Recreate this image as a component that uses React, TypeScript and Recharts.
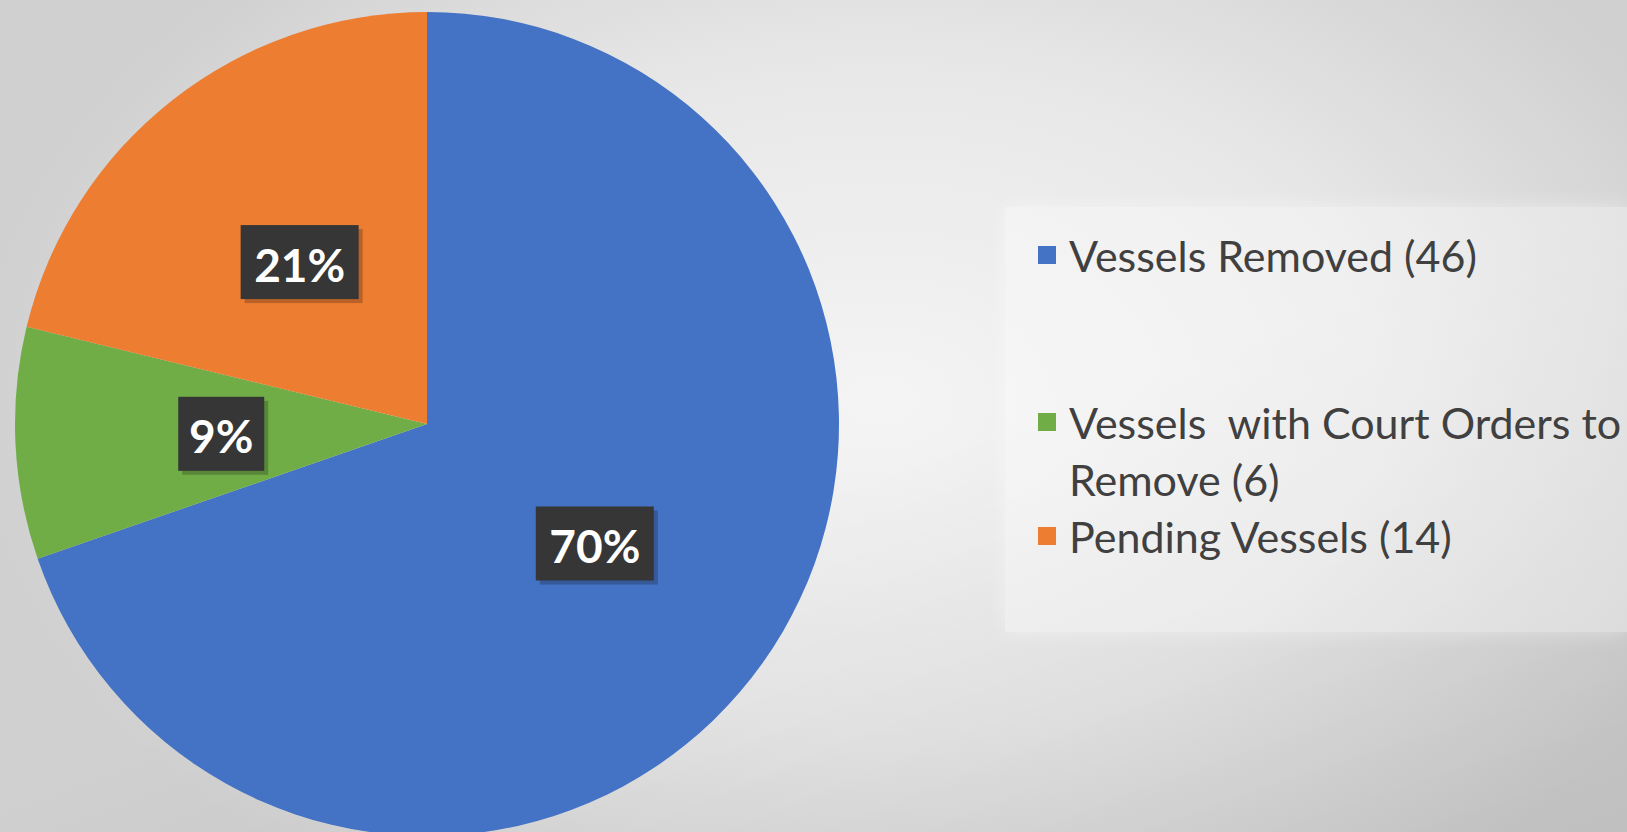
import React from 'react';
import { PieChart, Pie, Cell, Legend } from 'recharts';

const categories = ['Vessels Removed (46)', 'Vessels  with Court Orders to Remove (6)', 'Pending Vessels (14)'];
const counts = [46, 6, 14];
const COLORS = ['#4472C4', '#70AD47', '#ED7D31'];

const data = categories.map((name, i) => ({ name, value: counts[i] }));

const RADIAN = Math.PI / 180;

const renderLabel = (props: any) => {
  const { cx, cy, midAngle, outerRadius, percent } = props;
  const r = outerRadius * 0.5;
  const x = cx + r * Math.cos(-midAngle * RADIAN);
  const y = cy + r * Math.sin(-midAngle * RADIAN);
  const text = `${Math.round(percent * 100)}%`;
  const w = text.length === 2 ? 86 : 118;
  const h = 74;
  return (
    <g>
      <rect x={x - w / 2 + 4} y={y - h / 2 + 4} width={w} height={h} fill="#000" opacity={0.22} />
      <rect x={x - w / 2} y={y - h / 2} width={w} height={h} fill="#363636" />
      <text x={x} y={y + 2} fill="#fff" textAnchor="middle" dominantBaseline="central"
        style={{ fontFamily: 'Lato', fontWeight: 700, fontSize: 46 }}>
        {text}
      </text>
    </g>
  );
};

// legend rows are placed like the Excel legend box: entries not evenly spaced
const legendTops = [227, 394, 508];

const renderLegend = (props: any) => {
  const { payload } = props;
  return (
    <div style={{ position: 'relative', width: 600, height: 832 }}>
      {categories.map((name, i) => {
        const entry = (payload || []).find((p: any) => p.value === name);
        const color = entry ? entry.color : COLORS[i];
        return (
          <div key={name} style={{ position: 'absolute', left: 0, top: legendTops[i], display: 'flex', alignItems: 'flex-start' }}>
            <div style={{ width: 18, height: 18, background: color, marginTop: 19, marginRight: 13, flexShrink: 0 }} />
            <div style={{ fontFamily: 'Lato', fontSize: 43, lineHeight: '57px', color: '#404040', width: 580 }}>
              {i === 1 ? (<>Vessels&nbsp; with Court Orders to<br />Remove (6)</>) : name}
            </div>
          </div>
        );
      })}
    </div>
  );
};

export default function App() {
  return (
    <div style={{ position: 'absolute', left: 0, top: 0, width: 1627, height: 832, overflow: 'hidden',
      background: 'radial-gradient(ellipse 900px 600px at 880px 400px, #f4f4f4 0%, #e8e8e8 55%, #d0d0d0 100%)' }}>
      <style>{'body{margin:0}'}</style>
      <div style={{ position: 'absolute', left: 0, top: 0, width: 1627, height: 832,
        background: 'linear-gradient(160deg, rgba(0,0,0,0) 55%, rgba(0,0,0,0.08) 100%)' }} />
      <div style={{ position: 'absolute', left: 1005, top: 207, width: 622, height: 425,
        background: 'rgba(255,255,255,0.35)', boxShadow: '0 0 20px rgba(255,255,255,0.4)' }} />
      <div style={{ position: 'absolute', left: 0, top: 0 }}>
        <PieChart width={1627} height={832} margin={{ top: 0, right: 0, bottom: 0, left: 0 }}>
          <Pie
            data={data}
            dataKey="value"
            nameKey="name"
            cx={427}
            cy={424}
            outerRadius={412}
            startAngle={90}
            endAngle={-270}
            stroke="none"
            label={renderLabel}
            labelLine={false}
            isAnimationActive={false}
          >
            {data.map((entry, index) => (
              <Cell key={`cell-${index}`} fill={COLORS[index]} />
            ))}
          </Pie>
          <Legend content={renderLegend} layout="vertical" align="right" verticalAlign="top"
            wrapperStyle={{ left: 1038, top: 0, width: 600 }} />
        </PieChart>
      </div>
    </div>
  );
}
